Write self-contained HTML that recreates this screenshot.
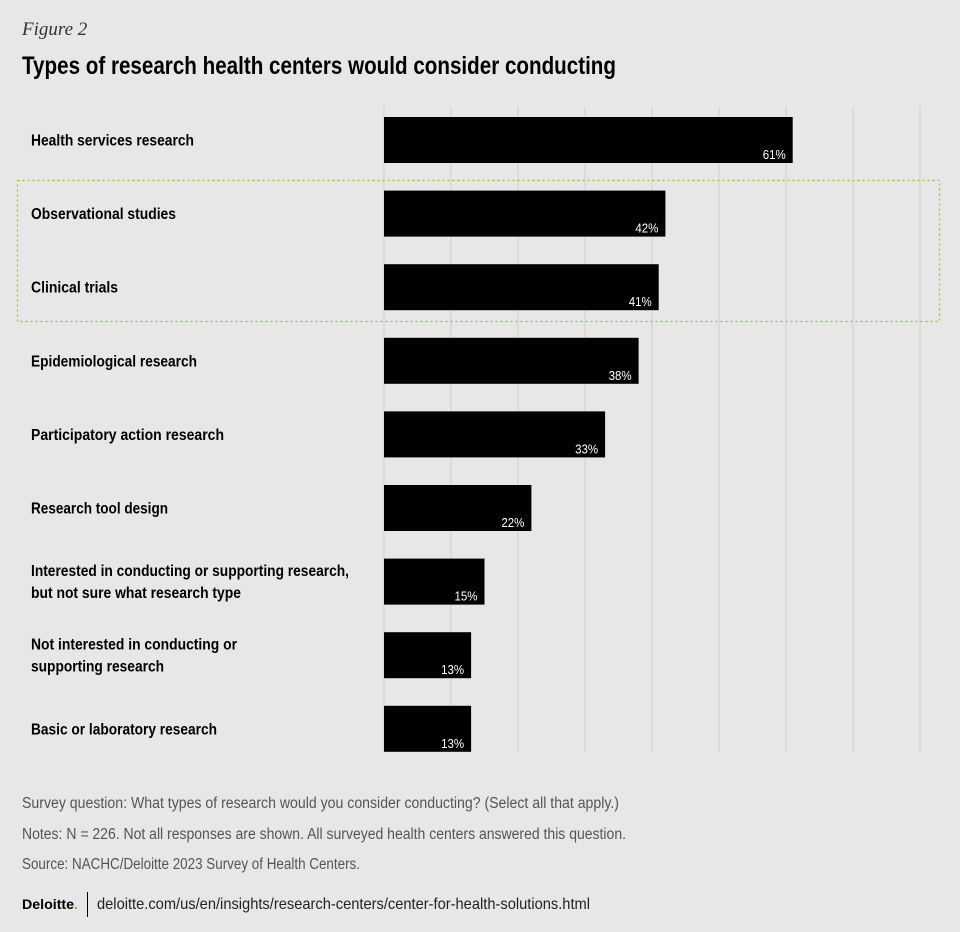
<!DOCTYPE html>
<html><head><meta charset="utf-8"><style>
html,body{margin:0;padding:0;background:#e6e7e6;}
svg{display:block;font-family:"Liberation Sans Narrow","Liberation Sans",sans-serif;}
</style></head><body>
<svg id="chart" width="960" height="932" viewBox="0 0 960 932">
<rect width="960" height="932" fill="#e6e7e6"/>
<text x="22" y="35" font-family="Liberation Serif, serif" font-style="italic" font-size="19" fill="#333">Figure 2</text>
<text x="22" y="74" font-size="25" font-weight="bold" fill="#000" textLength="594" lengthAdjust="spacingAndGlyphs">Types of research health centers would consider conducting</text>
<g id="grid"></g>
<rect x="17.5" y="180.5" width="922" height="141" fill="none" stroke="#8dc63f" stroke-width="1.2" stroke-dasharray="2,3"/>
<g id="bars"></g>
<g id="labels"></g>
<text x="22" y="808" font-size="15.5" fill="#555" textLength="597" lengthAdjust="spacingAndGlyphs">Survey question: What types of research would you consider conducting? (Select all that apply.)</text>
<text x="22" y="839" font-size="15.5" fill="#555" textLength="604" lengthAdjust="spacingAndGlyphs">Notes: N = 226. Not all responses are shown. All surveyed health centers answered this question.</text>
<text x="22" y="869" font-size="15.5" fill="#555" textLength="338" lengthAdjust="spacingAndGlyphs">Source: NACHC/Deloitte 2023 Survey of Health Centers.</text>
<text x="22" y="909" font-size="14" font-weight="bold" fill="#000" textLength="56" lengthAdjust="spacingAndGlyphs">Deloitte<tspan fill="#86bc25">.</tspan></text>
<line x1="87.5" y1="892" x2="87.5" y2="917" stroke="#000" stroke-width="1"/>
<text x="97" y="909" font-size="16" fill="#222" textLength="493" lengthAdjust="spacingAndGlyphs">deloitte.com/us/en/insights/research-centers/center-for-health-solutions.html</text>
</svg>
<script>
const categories = [["Health services research"],["Observational studies"],["Clinical trials"],["Epidemiological research"],["Participatory action research"],["Research tool design"],["Interested in conducting or supporting research,","but not sure what research type"],["Not interested in conducting or","supporting research"],["Basic or laboratory research"]];
const values = [61,42,41,38,33,22,15,13,13];
const valueLabels = ["61%","42%","41%","38%","33%","22%","15%","13%","13%"];
const gridTicks = [0,10,20,30,40,50,60,70,80];
// rendered label widths (layout only, matching condensed face)
const labelWidths = [[163],[145],[87],[166],[193],[137],[318,210],[206,133],[186]];
const NS="http://www.w3.org/2000/svg";
const x0=384, pxPer=6.7, top0=117, step=73.6, bh=46;
const xs=v=>x0+v*pxPer;
const ys=i=>top0+i*step;
function mk(t,a){const e=document.createElementNS(NS,t);for(const k in a)e.setAttribute(k,a[k]);return e;}
const g=document.getElementById('grid'),b=document.getElementById('bars'),l=document.getElementById('labels');
gridTicks.forEach(t=>{const ln=mk('line',{x1:xs(t),x2:xs(t),y1:107,y2:752,stroke:'#cfd0cf','stroke-width':1});


g.appendChild(ln);});
values.forEach((v,i)=>{
const r=mk('rect',{x:x0,y:ys(i),width:xs(v)-x0,height:bh,fill:'#000'});


b.appendChild(r);
const t=mk('text',{x:xs(v)-7,y:ys(i)+bh-4,'text-anchor':'end','font-size':12.5,fill:'#fff',textLength:23,lengthAdjust:'spacingAndGlyphs'});
t.textContent=valueLabels[i];


b.appendChild(t);
const lines=categories[i];const cy=ys(i)+bh/2;
lines.forEach((s,j)=>{const ty=cy+5.5+(j-(lines.length-1)/2)*22;
const w=(labelWidths[i]&&labelWidths[i][j])||s.length*7;
const tx=mk('text',{x:31,y:ty,'font-size':15.5,'font-weight':'bold',fill:'#000',textLength:w,lengthAdjust:'spacingAndGlyphs'});
tx.textContent=s;


l.appendChild(tx);});
});
</script>
</body></html>
